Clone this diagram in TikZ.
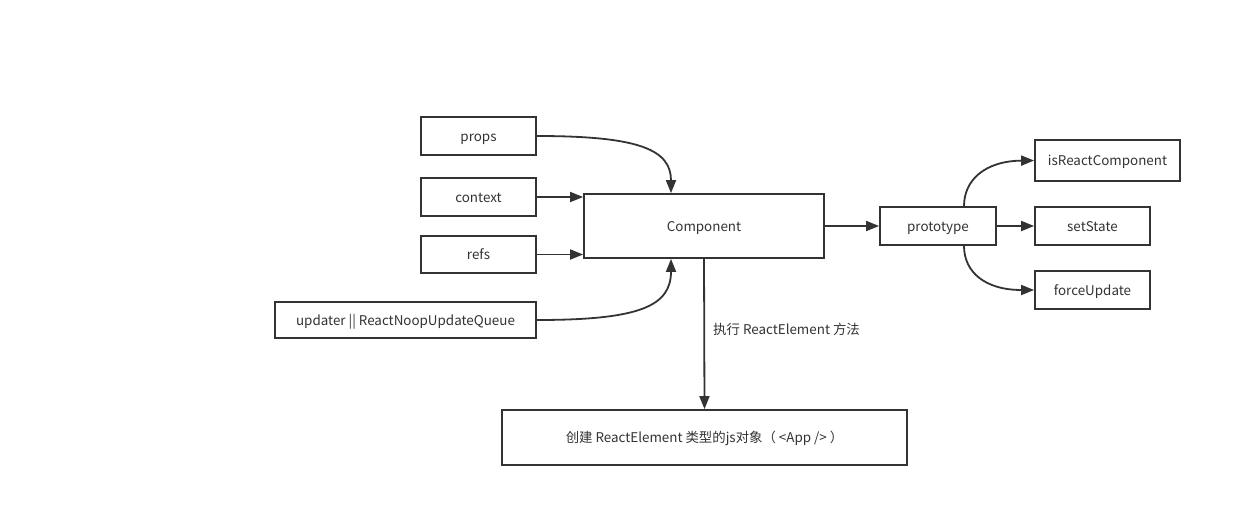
\documentclass[tikz,border=0pt]{standalone}
\usepackage{fontspec}
\setmainfont{Noto Sans CJK SC}
\usetikzlibrary{arrows.meta}
\definecolor{ink}{HTML}{333333}
\begin{document}
\begin{tikzpicture}[x=1pt,y=-1pt,
  box/.style={draw=ink,line width=1.8pt,fill=white,text=ink,inner sep=0pt,text height=11.5pt,text depth=1pt,font=\fontsize{13.4}{15}\selectfont},
  conn/.style={draw=ink,line width=1.8pt,-{Triangle[length=13pt,width=10pt]}},
  lbl/.style={text=ink,font=\fontsize{13.4}{15}\selectfont,inner sep=0pt}]
\useasboundingbox[fill=white] (0,0) rectangle (1240,527);
\node[box,minimum width=115pt,minimum height=38pt] (props) at (478.5,136) {props};
\node[box,minimum width=115pt,minimum height=38pt] (context) at (478.5,197) {context};
\node[box,minimum width=115pt,minimum height=37pt] (refs) at (478.5,254.5) {refs};
\node[box,minimum width=261pt,minimum height=36pt] (updater) at (405.5,320) {updater || ReactNoopUpdateQueue};
\node[box,minimum width=240pt,minimum height=64pt] (comp) at (704,226) {Component};
\node[box,minimum width=116pt,minimum height=38pt] (proto) at (938,226) {prototype};
\node[box,minimum width=145pt,minimum height=41pt] (isrc) at (1107.5,160.5) {isReactComponent};
\node[box,minimum width=115pt,minimum height=38pt] (setst) at (1092.5,226) {setState};
\node[box,minimum width=115pt,minimum height=38pt] (force) at (1092.5,290) {forceUpdate};
\node[box,minimum width=405pt,minimum height=55pt] (elem) at (704.5,437.5) {创建 ReactElement 类型的js对象（ <App /> ）};
\draw[conn] (props.east) .. controls (640,136) and (671,150) .. ([xshift=-33pt]comp.north);
\draw[conn] (context.east) -- (comp.west |- context.east);
\draw[conn] (refs.east) -- (comp.west |- refs.east);
\draw[conn] (updater.east) .. controls (640,320) and (671,306) .. ([xshift=-33pt]comp.south);
\draw[conn] (comp.east) -- (proto.west);
\draw[conn] ([xshift=26pt]proto.north) .. controls (964,180) and (985,161) .. (isrc.west);
\draw[conn] (proto.east) -- (setst.west);
\draw[conn] ([xshift=26pt]proto.south) .. controls (964,272) and (985,290) .. (force.west);
\draw[conn] (comp.south) -- (elem.north);
\node[lbl,anchor=west] (exec) at (713,329.5) {执行 ReactElement 方法};
\end{tikzpicture}
\end{document}
